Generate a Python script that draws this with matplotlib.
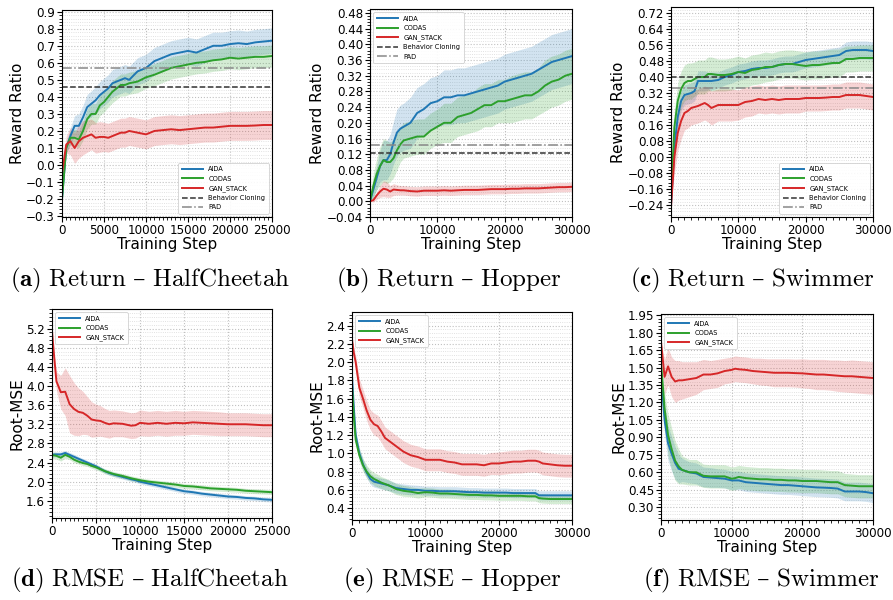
import numpy as np
import matplotlib
matplotlib.use("Agg")
import matplotlib.pyplot as plt
from matplotlib.ticker import AutoMinorLocator, FixedLocator

plt.rcParams['mathtext.fontset'] = 'cm'
plt.rcParams['font.family'] = ['DejaVu Sans']

# ---------------- data ----------------
series_names = ["AIDA", "CODAS", "GAN_STACK"]
colors = ["#1f77b4", "#2ca02c", "#d62728"]

# (a) Return - HalfCheetah
x_a = [0, 500, 1000, 1500, 2000, 2500, 3000, 3500, 4000, 4500, 5000, 5500, 6000, 6500, 7000, 7500, 8000,
       9000, 10000, 11000, 12000, 13000, 14000, 15000, 16000, 17000, 18000, 19000, 20000, 21000, 22000,
       23000, 24000, 25000]
aida_a = [-0.20, 0.10, 0.17, 0.23, 0.23, 0.28, 0.34, 0.36, 0.38, 0.41, 0.43, 0.45, 0.48, 0.49, 0.50, 0.51, 0.50,
          0.55, 0.57, 0.61, 0.63, 0.65, 0.66, 0.67, 0.66, 0.68, 0.70, 0.70, 0.71, 0.715, 0.71, 0.72, 0.725, 0.73]
codas_a = [-0.20, 0.10, 0.16, 0.16, 0.15, 0.20, 0.27, 0.30, 0.30, 0.35, 0.37, 0.40, 0.43, 0.45, 0.47, 0.47, 0.48,
           0.49, 0.515, 0.53, 0.55, 0.57, 0.58, 0.59, 0.60, 0.605, 0.615, 0.62, 0.63, 0.625, 0.63, 0.635, 0.635, 0.64]
gan_a = [-0.05, 0.12, 0.14, 0.10, 0.14, 0.16, 0.17, 0.18, 0.16, 0.165, 0.165, 0.16, 0.17, 0.18, 0.19, 0.19, 0.20,
         0.19, 0.18, 0.20, 0.205, 0.21, 0.205, 0.21, 0.215, 0.22, 0.22, 0.225, 0.23, 0.23, 0.23, 0.232, 0.235, 0.235]
aida_a_sd = [0.0, 0.03, 0.05, 0.06, 0.07, 0.07, 0.075, 0.075, 0.08, 0.08, 0.08, 0.08, 0.08, 0.08, 0.08, 0.08, 0.08,
             0.08, 0.08, 0.08, 0.08, 0.08, 0.08, 0.08, 0.08, 0.08, 0.08, 0.08, 0.078, 0.078, 0.076, 0.076, 0.075, 0.075]
codas_a_sd = [0.0, 0.03, 0.04, 0.05, 0.05, 0.055, 0.06, 0.06, 0.06, 0.06, 0.06, 0.06, 0.065, 0.065, 0.065, 0.065, 0.065,
              0.065, 0.065, 0.065, 0.065, 0.065, 0.065, 0.065, 0.065, 0.065, 0.065, 0.065, 0.065, 0.065, 0.065, 0.065, 0.065, 0.065]
gan_a_sd = [0.0, 0.05, 0.08, 0.09, 0.10, 0.10, 0.095, 0.09, 0.09, 0.09, 0.085, 0.085, 0.085, 0.085, 0.085, 0.085, 0.085,
            0.085, 0.085, 0.085, 0.085, 0.085, 0.085, 0.085, 0.085, 0.085, 0.085, 0.085, 0.085, 0.085, 0.085, 0.085, 0.085, 0.085]
bc_a, pad_a = 0.46, 0.57

# (b) Return - Hopper
x_b = [0, 500, 1000, 1500, 2000, 2500, 3000, 3500, 4000, 4500, 5000, 6000, 7000, 8000, 9000, 10000, 11000, 12000,
       13000, 14000, 15000, 16000, 17000, 18000, 19000, 20000, 21000, 22000, 23000, 24000, 25000, 26000, 27000,
       28000, 29000, 30000]
aida_b = [0.0, 0.03, 0.06, 0.09, 0.105, 0.105, 0.12, 0.15, 0.175, 0.185, 0.19, 0.20, 0.225, 0.235, 0.25, 0.255,
          0.265, 0.265, 0.27, 0.27, 0.275, 0.28, 0.285, 0.29, 0.295, 0.305, 0.31, 0.315, 0.32, 0.325, 0.335, 0.345,
          0.355, 0.36, 0.365, 0.37]
codas_b = [0.0, 0.04, 0.07, 0.09, 0.105, 0.10, 0.10, 0.11, 0.13, 0.145, 0.155, 0.16, 0.165, 0.165, 0.18, 0.19,
           0.20, 0.20, 0.215, 0.22, 0.225, 0.235, 0.245, 0.245, 0.255, 0.255, 0.26, 0.265, 0.27, 0.27, 0.28, 0.295,
           0.305, 0.31, 0.32, 0.325]
gan_b = [0.0, 0.003, 0.015, 0.025, 0.032, 0.03, 0.025, 0.03, 0.029, 0.028, 0.028, 0.026, 0.025, 0.027, 0.027,
         0.027, 0.028, 0.027, 0.028, 0.029, 0.029, 0.029, 0.03, 0.031, 0.031, 0.031, 0.032, 0.032, 0.033, 0.033,
         0.033, 0.034, 0.035, 0.036, 0.036, 0.037]
aida_b_sd = [0.0, 0.02, 0.03, 0.04, 0.05, 0.05, 0.05, 0.055, 0.06, 0.06, 0.06, 0.065, 0.065, 0.065, 0.065, 0.065,
             0.07, 0.07, 0.07, 0.07, 0.07, 0.07, 0.07, 0.07, 0.07, 0.07, 0.07, 0.07, 0.07, 0.07, 0.07, 0.07, 0.07,
             0.07, 0.07, 0.07]
codas_b_sd = [0.0, 0.03, 0.04, 0.05, 0.055, 0.055, 0.05, 0.05, 0.05, 0.045, 0.045, 0.045, 0.045, 0.045, 0.045,
              0.045, 0.05, 0.05, 0.05, 0.05, 0.05, 0.055, 0.055, 0.055, 0.055, 0.055, 0.06, 0.06, 0.06, 0.06, 0.06,
              0.065, 0.065, 0.065, 0.065, 0.065]
gan_b_sd = [0.0, 0.005, 0.01, 0.015, 0.02, 0.02, 0.015, 0.015, 0.013, 0.012, 0.012, 0.012, 0.012, 0.012, 0.012,
            0.012, 0.012, 0.012, 0.012, 0.012, 0.012, 0.012, 0.012, 0.012, 0.012, 0.012, 0.012, 0.012, 0.012,
            0.012, 0.012, 0.012, 0.012, 0.012, 0.012, 0.012]
bc_b, pad_b = 0.122, 0.144

# (c) Return - Swimmer
x_c = [0, 500, 1000, 1500, 2000, 2500, 3000, 3500, 4000, 5000, 5500, 6000, 7000, 8000, 9000, 10000, 11000, 12000,
       13000, 14000, 15000, 16000, 17000, 18000, 19000, 20000, 21000, 22000, 23000, 24000, 25000, 26000, 27000,
       28000, 29000, 30000]
aida_c = [-0.24, 0.05, 0.20, 0.28, 0.31, 0.315, 0.32, 0.33, 0.38, 0.38, 0.38, 0.38, 0.385, 0.40, 0.41, 0.425, 0.43,
          0.44, 0.445, 0.445, 0.45, 0.46, 0.465, 0.465, 0.475, 0.485, 0.49, 0.495, 0.50, 0.505, 0.51, 0.53, 0.535,
          0.535, 0.535, 0.53]
codas_c = [-0.20, 0.15, 0.28, 0.34, 0.37, 0.38, 0.38, 0.39, 0.40, 0.40, 0.415, 0.415, 0.41, 0.41, 0.415, 0.425,
           0.42, 0.435, 0.44, 0.45, 0.45, 0.46, 0.465, 0.465, 0.46, 0.455, 0.46, 0.46, 0.465, 0.47, 0.47, 0.49, 0.49,
           0.495, 0.495, 0.495]
gan_c = [-0.25, 0.00, 0.12, 0.18, 0.22, 0.23, 0.245, 0.25, 0.255, 0.27, 0.26, 0.245, 0.26, 0.26, 0.26, 0.26, 0.275,
         0.28, 0.29, 0.285, 0.29, 0.285, 0.29, 0.29, 0.29, 0.295, 0.295, 0.295, 0.297, 0.30, 0.30, 0.31, 0.31, 0.31,
         0.305, 0.30]
aida_c_sd = [0.0, 0.06, 0.06, 0.05, 0.05, 0.05, 0.05, 0.05, 0.05, 0.05, 0.045, 0.045, 0.04, 0.04, 0.04, 0.04, 0.04,
             0.04, 0.04, 0.04, 0.04, 0.04, 0.04, 0.04, 0.04, 0.04, 0.04, 0.04, 0.04, 0.04, 0.04, 0.045, 0.045,
             0.045, 0.045, 0.045]
codas_c_sd = [0.0, 0.08, 0.09, 0.09, 0.09, 0.09, 0.09, 0.085, 0.085, 0.085, 0.085, 0.085, 0.08, 0.08, 0.08, 0.08,
              0.075, 0.075, 0.075, 0.075, 0.07, 0.07, 0.07, 0.07, 0.07, 0.07, 0.07, 0.07, 0.07, 0.07, 0.07, 0.065,
              0.065, 0.065, 0.065, 0.065]
gan_c_sd = [0.0, 0.08, 0.09, 0.09, 0.085, 0.085, 0.085, 0.085, 0.085, 0.085, 0.085, 0.085, 0.08, 0.08, 0.08, 0.075,
            0.075, 0.075, 0.07, 0.07, 0.07, 0.07, 0.07, 0.07, 0.07, 0.065, 0.065, 0.065, 0.065, 0.065, 0.065,
            0.065, 0.065, 0.065, 0.065, 0.065]
bc_c, pad_c = 0.40, 0.345

# (d) RMSE - HalfCheetah
x_d = [0, 250, 500, 1000, 1500, 2000, 2500, 3000, 3500, 4000, 4500, 5000, 5500, 6000, 6500, 7000, 8000, 9000, 9500,
       10000, 11000, 12000, 13000, 14000, 15000, 16000, 17000, 18000, 19000, 20000, 21000, 22000, 23000, 24000, 25000]
aida_d = [2.55, 2.57, 2.57, 2.57, 2.60, 2.56, 2.52, 2.48, 2.44, 2.40, 2.36, 2.32, 2.27, 2.22, 2.18, 2.15, 2.10,
          2.05, 2.03, 2.00, 1.96, 1.92, 1.88, 1.84, 1.80, 1.78, 1.75, 1.73, 1.71, 1.69, 1.68, 1.66, 1.65, 1.63, 1.62]
codas_d = [2.55, 2.55, 2.54, 2.50, 2.56, 2.52, 2.46, 2.42, 2.39, 2.37, 2.33, 2.30, 2.26, 2.22, 2.19, 2.16, 2.12,
           2.07, 2.05, 2.03, 2.00, 1.98, 1.96, 1.94, 1.91, 1.90, 1.88, 1.86, 1.85, 1.84, 1.83, 1.81, 1.80, 1.79, 1.78]
gan_d = [5.15, 4.60, 4.10, 3.87, 3.88, 3.62, 3.52, 3.46, 3.44, 3.38, 3.30, 3.28, 3.27, 3.23, 3.20, 3.22, 3.21,
         3.17, 3.18, 3.23, 3.21, 3.23, 3.21, 3.23, 3.22, 3.24, 3.23, 3.22, 3.21, 3.20, 3.20, 3.20, 3.19, 3.18, 3.18]
aida_d_sd = [0.05, 0.05, 0.05, 0.05, 0.05, 0.05, 0.05, 0.045, 0.045, 0.045, 0.045, 0.045, 0.045, 0.045, 0.045,
             0.045, 0.045, 0.045, 0.045, 0.045, 0.045, 0.045, 0.045, 0.045, 0.045, 0.045, 0.045, 0.045, 0.045,
             0.045, 0.045, 0.045, 0.045, 0.045, 0.045]
codas_d_sd = [0.06, 0.07, 0.07, 0.07, 0.07, 0.06, 0.06, 0.05, 0.05, 0.05, 0.05, 0.05, 0.05, 0.05, 0.05, 0.05,
              0.05, 0.05, 0.05, 0.05, 0.05, 0.05, 0.05, 0.05, 0.05, 0.05, 0.05, 0.05, 0.05, 0.05, 0.05, 0.05,
              0.05, 0.05, 0.05]
gan_d_sd = [0.0, 0.10, 0.20, 0.35, 0.50, 0.60, 0.55, 0.50, 0.45, 0.40, 0.37, 0.34, 0.32, 0.30, 0.29, 0.28, 0.27,
            0.27, 0.27, 0.27, 0.26, 0.26, 0.26, 0.26, 0.25, 0.25, 0.25, 0.25, 0.25, 0.24, 0.24, 0.24, 0.24, 0.24, 0.24]

# (e) RMSE - Hopper
x_e = [0, 250, 500, 1000, 1500, 2000, 2500, 3000, 3500, 4000, 4500, 5000, 6000, 7000, 8000, 9000, 10000, 11000,
       12000, 13000, 14000, 15000, 16000, 17000, 18000, 19000, 20000, 21000, 22000, 23000, 24000, 25000, 25500,
       26000, 27000, 28000, 29000, 30000]
aida_e = [1.85, 1.50, 1.20, 1.00, 0.88, 0.79, 0.72, 0.69, 0.68, 0.67, 0.66, 0.65, 0.62, 0.61, 0.60, 0.60, 0.59,
          0.59, 0.585, 0.585, 0.585, 0.58, 0.575, 0.575, 0.57, 0.57, 0.57, 0.57, 0.565, 0.565, 0.565, 0.565, 0.54,
          0.54, 0.54, 0.54, 0.54, 0.54]
codas_e = [1.75, 1.40, 1.15, 0.98, 0.87, 0.80, 0.75, 0.72, 0.70, 0.68, 0.665, 0.65, 0.61, 0.59, 0.58, 0.565, 0.575,
           0.57, 0.56, 0.56, 0.555, 0.55, 0.545, 0.545, 0.54, 0.54, 0.535, 0.535, 0.535, 0.535, 0.53, 0.53, 0.51,
           0.505, 0.50, 0.50, 0.50, 0.50]
gan_e = [2.25, 2.10, 2.00, 1.72, 1.60, 1.47, 1.37, 1.32, 1.30, 1.24, 1.17, 1.14, 1.08, 1.02, 0.98, 0.96, 0.93, 0.93,
         0.93, 0.91, 0.90, 0.88, 0.88, 0.88, 0.87, 0.89, 0.89, 0.90, 0.91, 0.91, 0.92, 0.92, 0.91, 0.89, 0.88, 0.87,
         0.865, 0.865]
aida_e_sd = [0.0, 0.05, 0.06, 0.06, 0.06, 0.06, 0.06, 0.06, 0.06, 0.06, 0.06, 0.06, 0.055, 0.055, 0.055, 0.05,
             0.05, 0.05, 0.05, 0.05, 0.05, 0.05, 0.05, 0.05, 0.05, 0.05, 0.05, 0.05, 0.05, 0.05, 0.05, 0.05, 0.05,
             0.05, 0.05, 0.05, 0.05, 0.05]
codas_e_sd = [0.0, 0.05, 0.06, 0.07, 0.07, 0.07, 0.07, 0.07, 0.07, 0.065, 0.065, 0.06, 0.06, 0.06, 0.055, 0.055,
              0.05, 0.05, 0.05, 0.05, 0.05, 0.05, 0.05, 0.05, 0.05, 0.05, 0.05, 0.05, 0.05, 0.05, 0.05, 0.05, 0.05,
              0.05, 0.05, 0.05, 0.05, 0.05]
gan_e_sd = [0.0, 0.05, 0.08, 0.10, 0.10, 0.11, 0.11, 0.12, 0.12, 0.12, 0.12, 0.12, 0.12, 0.12, 0.12, 0.12, 0.12,
            0.12, 0.12, 0.12, 0.12, 0.12, 0.12, 0.12, 0.12, 0.12, 0.125, 0.125, 0.125, 0.125, 0.125, 0.125, 0.125,
            0.125, 0.125, 0.125, 0.125, 0.125]

# (f) RMSE - Swimmer
x_f = [0, 500, 1000, 1500, 2000, 2500, 3000, 4000, 5000, 6000, 7000, 8000, 9000, 10000, 10500, 11000, 12000, 13000,
       14000, 15000, 16000, 17000, 18000, 19000, 20000, 21000, 22000, 23000, 24000, 25000, 26000, 27000, 28000,
       29000, 30000]
aida_f = [1.45, 1.05, 0.85, 0.76, 0.68, 0.63, 0.62, 0.60, 0.59, 0.56, 0.555, 0.55, 0.545, 0.53, 0.53, 0.53, 0.515,
          0.51, 0.505, 0.50, 0.495, 0.49, 0.49, 0.485, 0.48, 0.475, 0.47, 0.468, 0.465, 0.46, 0.435, 0.435, 0.435,
          0.43, 0.42]
codas_f = [1.55, 1.15, 0.92, 0.80, 0.70, 0.65, 0.62, 0.60, 0.60, 0.57, 0.565, 0.565, 0.565, 0.545, 0.55, 0.56,
           0.55, 0.545, 0.54, 0.54, 0.535, 0.535, 0.53, 0.53, 0.525, 0.525, 0.525, 0.52, 0.515, 0.515, 0.49, 0.485,
           0.48, 0.48, 0.48]
gan_f = [1.72, 1.42, 1.51, 1.42, 1.38, 1.39, 1.39, 1.40, 1.41, 1.44, 1.44, 1.45, 1.47, 1.48, 1.49, 1.485, 1.48,
         1.47, 1.465, 1.46, 1.455, 1.455, 1.455, 1.452, 1.45, 1.445, 1.44, 1.44, 1.435, 1.43, 1.425, 1.425, 1.42,
         1.415, 1.41]
aida_f_sd = [0.0, 0.12, 0.15, 0.15, 0.14, 0.12, 0.10, 0.09, 0.09, 0.085, 0.085, 0.08, 0.08, 0.08, 0.08, 0.08, 0.08,
             0.08, 0.08, 0.08, 0.08, 0.08, 0.08, 0.08, 0.08, 0.08, 0.08, 0.08, 0.08, 0.08, 0.08, 0.08, 0.08, 0.08,
             0.08]
codas_f_sd = [0.0, 0.14, 0.18, 0.18, 0.17, 0.15, 0.12, 0.11, 0.11, 0.10, 0.10, 0.10, 0.10, 0.10, 0.10, 0.10, 0.10,
              0.10, 0.10, 0.10, 0.10, 0.10, 0.10, 0.10, 0.10, 0.10, 0.10, 0.10, 0.10, 0.10, 0.10, 0.10, 0.10, 0.10,
              0.10]
gan_f_sd = [0.0, 0.15, 0.16, 0.17, 0.18, 0.17, 0.16, 0.15, 0.14, 0.13, 0.12, 0.12, 0.11, 0.11, 0.11, 0.11, 0.11,
            0.11, 0.115, 0.115, 0.12, 0.12, 0.12, 0.12, 0.125, 0.125, 0.13, 0.13, 0.13, 0.135, 0.135, 0.14, 0.14,
            0.14, 0.14]

# ticks
yt_a = [-0.3, -0.2, -0.1, 0.0, 0.1, 0.2, 0.3, 0.4, 0.5, 0.6, 0.7, 0.8, 0.9]
yt_b = [-0.04, 0.00, 0.04, 0.08, 0.12, 0.16, 0.20, 0.24, 0.28, 0.32, 0.36, 0.40, 0.44, 0.48]
yt_c = [-0.24, -0.16, -0.08, 0.00, 0.08, 0.16, 0.24, 0.32, 0.40, 0.48, 0.56, 0.64, 0.72]
yt_d = [1.6, 2.0, 2.4, 2.8, 3.2, 3.6, 4.0, 4.4, 4.8, 5.2]
yt_e = [0.4, 0.6, 0.8, 1.0, 1.2, 1.4, 1.6, 1.8, 2.0, 2.2, 2.4]
yt_f = [0.30, 0.45, 0.60, 0.75, 0.90, 1.05, 1.20, 1.35, 1.50, 1.65, 1.80, 1.95]
xt_25 = [0, 5000, 10000, 15000, 20000, 25000]
xt_30 = [0, 10000, 20000, 30000]

captions = [("(a)", "Return", "HalfCheetah"), ("(b)", "Return", "Hopper"),
            ("(c)", "Return", "Swimmer"), ("(d)", "RMSE", "HalfCheetah"),
            ("(e)", "RMSE", "Hopper"), ("(f)", "RMSE", "Swimmer")]

# ---------------- figure ----------------
W, H = 893, 600
fig = plt.figure(figsize=(W / 100, H / 100), dpi=100)


def rect(l, t, r, b):
    return [l / W, 1 - b / H, (r - l) / W, (b - t) / H]


panels = [
    dict(r=rect(62, 10, 272, 217), x=x_a, ys=[aida_a, codas_a, gan_a], sds=[aida_a_sd, codas_a_sd, gan_a_sd],
         ylim=(-0.305, 0.91), xlim=(0, 25000), yt=yt_a, xt=xt_25, fmt="{:.1f}", ylab="Reward Ratio",
         refs=(bc_a, pad_a), loc="lower right"),
    dict(r=rect(370, 9, 572, 217), x=x_b, ys=[aida_b, codas_b, gan_b], sds=[aida_b_sd, codas_b_sd, gan_b_sd],
         ylim=(-0.04, 0.49), xlim=(0, 30000), yt=yt_b, xt=xt_30, fmt="{:.2f}", ylab="Reward Ratio",
         refs=(bc_b, pad_b), loc="upper left"),
    dict(r=rect(671, 7, 873, 217), x=x_c, ys=[aida_c, codas_c, gan_c], sds=[aida_c_sd, codas_c_sd, gan_c_sd],
         ylim=(-0.30, 0.75), xlim=(0, 30000), yt=yt_c, xt=xt_30, fmt="{:.2f}", ylab="Reward Ratio",
         refs=(bc_c, pad_c), loc="lower right"),
    dict(r=rect(52, 309, 272, 518), x=x_d, ys=[aida_d, codas_d, gan_d], sds=[aida_d_sd, codas_d_sd, gan_d_sd],
         ylim=(1.24, 5.61), xlim=(0, 25000), yt=yt_d, xt=xt_25, fmt="{:.1f}", ylab="Root-MSE",
         refs=None, loc="upper left"),
    dict(r=rect(352, 312, 572, 520), x=x_e, ys=[aida_e, codas_e, gan_e], sds=[aida_e_sd, codas_e_sd, gan_e_sd],
         ylim=(0.27, 2.55), xlim=(0, 30000), yt=yt_e, xt=xt_30, fmt="{:.1f}", ylab="Root-MSE",
         refs=None, loc="upper left"),
    dict(r=rect(661, 314, 873, 520), x=x_f, ys=[aida_f, codas_f, gan_f], sds=[aida_f_sd, codas_f_sd, gan_f_sd],
         ylim=(0.19, 1.96), xlim=(0, 30000), yt=yt_f, xt=xt_30, fmt="{:.2f}", ylab="Root-MSE",
         refs=None, loc="upper left"),
]

for p in panels:
    ax = fig.add_axes(p["r"])
    x = np.array(p["x"], dtype=float)
    for name, col, y, sd in zip(series_names, colors, p["ys"], p["sds"]):
        y = np.array(y)
        sd = np.array(sd)
        ax.fill_between(x, y - sd, y + sd, color=col, alpha=0.2, lw=0)
        ax.plot(x, y, color=col, lw=1.4, label=name)
    if p["refs"] is not None:
        ax.axhline(p["refs"][0], color="#333333", ls="--", lw=1.1, label="Behavior Cloning")
        ax.axhline(p["refs"][1], color="#888888", ls="-.", lw=1.1, label="PAD")
    ax.set_xlim(*p["xlim"])
    ax.set_ylim(*p["ylim"])
    ax.yaxis.set_major_locator(FixedLocator(p["yt"]))
    ax.set_yticklabels([p["fmt"].format(v).replace("-", "\u2212") for v in p["yt"]])
    ax.set_xticks(p["xt"])
    ax.set_xticklabels([str(v) for v in p["xt"]])
    ax.yaxis.set_minor_locator(AutoMinorLocator(5))
    ax.xaxis.set_minor_locator(AutoMinorLocator(10))
    ax.tick_params(axis="both", which="major", labelsize=8.6, length=3.5, width=0.8, pad=1.5)
    ax.tick_params(axis="both", which="minor", length=2, width=0.6)
    ax.grid(True, which="major", color="#c0c0c0", ls=":", lw=0.8)
    ax.grid(True, which="minor", axis="y", color="#d8d8d8", ls=":", lw=0.6)
    ax.set_axisbelow(True)
    ax.set_xlabel("Training Step", fontsize=11, labelpad=0)
    ax.set_ylabel(p["ylab"], fontsize=11, labelpad=1)
    leg = ax.legend(loc=p["loc"], fontsize=4.8, handlelength=3.2, handletextpad=0.8, labelspacing=0.5,
                    borderpad=0.5, framealpha=0.9, fancybox=True)
    leg.get_frame().set_linewidth(0.6)

cap_pos = [(150, 280), (449, 280), (752, 280), (150, 580), (452, 580), (761, 580)]
for (lab, kind, env), (cx, cy) in zip(captions, cap_pos):
    s = r"$\mathbf{" + lab + r"}\ \mathrm{" + kind + r"}\ $" + "\u2013" + r"$\ \mathrm{" + env + r"}$"
    fig.text(cx / W, 1 - cy / H, s, ha="center", va="center", fontsize=18, family=["DejaVu Serif"])

fig.savefig("out.png", dpi=100)
